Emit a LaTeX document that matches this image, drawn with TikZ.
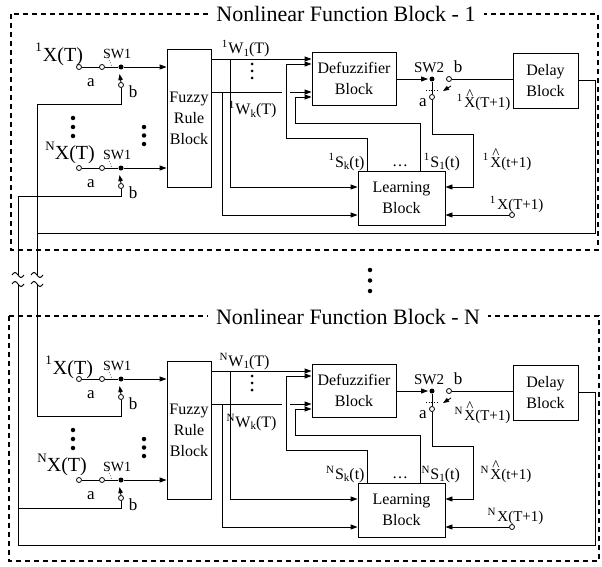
\documentclass[tikz,border=0pt]{standalone}
\usepackage{fontspec}
\setmainfont{Liberation Serif}
\usetikzlibrary{arrows.meta}
\newcommand\myfs[1]{\fontsize{#1}{#1}\selectfont}
\newcommand\spr[1]{\raisebox{6pt}{\myfs{11}#1}}
\newcommand\sbs[1]{\raisebox{-2.5pt}{\myfs{11}#1}}
\newcommand\hX{\makebox[0pt][l]{\hspace{1.9pt}\raisebox{9pt}{\textasciicircum}}X}
\tikzset{
  blk/.style={draw, inner sep=0pt, align=center, font=\fontsize{16}{21}\selectfont},
  term/.style={circle, draw, fill=white, inner sep=0pt, minimum size=5pt, line width=0.8pt},
  dotc/.style={circle, fill, inner sep=0pt, minimum size=5pt},
  bigdot/.style={circle, fill, inner sep=0pt, minimum size=4.5pt},
  smdot/.style={circle, fill, inner sep=0pt, minimum size=3pt},
  arr/.style={-{Triangle[length=7pt,width=5pt]}},
  sarr/.style={-{Triangle[length=6pt,width=4.5pt]}},
  lab/.style={inner sep=0pt},
  frame/.style={dash pattern=on 5pt off 4pt, line width=1.3pt},
}
\newcommand\nfblock[6]{%
\begin{scope}[yshift=#1]
  % blocks
  \node[blk, minimum width=44, minimum height=138] (fz#2) at (189,118) {Fuzzy\\Rule\\Block};
  \node[blk, minimum width=84, minimum height=53] (df#2) at (354,78.5) {Defuzzifier\\Block};
  \node[blk, minimum width=65, minimum height=55] (dl#2) at (545.5,80.5) {Delay\\Block};
  \node[blk, minimum width=87, minimum height=54] (ln#2) at (401.5,198) {Learning\\Block};
  % switch SW1 (first input)
  \node[term] (in1#2) at (79,67) {};
  \node[term] (ca1#2) at (102,67) {};
  \node[dotc] (co1#2) at (121,67) {};
  \node[term] (cb1#2) at (121,85) {};
  \coordinate (bl1#2) at (37,104);
  \draw (in1#2) -- (ca1#2);
  \draw (ca1#2) -- (co1#2);
  \draw[dotted, line width=0.7pt] (107,55) -- (112,67);
  \draw[sarr] (cb1#2.north) -- ++(-1.5,-8);
  \draw (cb1#2) |- (bl1#2);
  \draw[arr] (co1#2) -- (co1#2 -| fz#2.west);
  % switch SW1 (N-th input)
  \node[term] (inN#2) at (79,168) {};
  \node[term] (caN#2) at (102,168) {};
  \node[dotc] (coN#2) at (121,168) {};
  \node[term] (cbN#2) at (121,186) {};
  \coordinate (blN#2) at (18,196);
  \draw (inN#2) -- (caN#2);
  \draw (caN#2) -- (coN#2);
  \draw[dotted, line width=0.7pt] (107,156) -- (112,168);
  \draw[sarr] (cbN#2.north) -- ++(-1.5,-8);
  \draw (cbN#2) |- (blN#2);
  \draw[arr] (coN#2) -- (coN#2 -| fz#2.west);
  % input labels
  \node[lab, anchor=base west, font=\myfs{20}] (lx1#2) at (#5,62) {\raisebox{10pt}{\myfs{13}1}\hspace{1pt}X(T)};
  \node[lab, anchor=base west, font=\myfs{20}] (lxN#2) at (#6,159) {\raisebox{9pt}{\myfs{13}N}X(T)};
  \node[lab, font=\myfs{14}] (sw1a#2) at (117,54) {SW1};
  \node[lab, font=\myfs{14}] (sw1b#2) at (117,155) {SW1};
  \node[lab, font=\myfs{17}] (la1#2) at (91,83) {a};
  \node[lab, font=\myfs{17}] (lb1#2) at (133,92) {b};
  \node[lab, font=\myfs{17}] (laN#2) at (91,184) {a};
  \node[lab, font=\myfs{17}] (lbN#2) at (133,193) {b};
  % vertical ellipses
  \node[bigdot] (da1#2) at (73,118) {};
  \node[bigdot] (da2#2) at (73,127) {};
  \node[bigdot] (da3#2) at (73,136) {};
  \node[bigdot] (db1#2) at (144,127) {};
  \node[bigdot] (db2#2) at (144,135.5) {};
  \node[bigdot] (db3#2) at (144,144) {};
  \node[smdot] (dc1#2) at (252,64) {};
  \node[smdot] (dc2#2) at (252,71) {};
  \node[smdot] (dc3#2) at (252,78) {};
  % fuzzy outputs
  \draw[arr] (fz#2.east |- 0,59) -- (df#2.west |- 0,59);
  \draw[arr] (230,59) |- (ln#2.west |- 0,187);
  \draw (fz#2.east |- 0,92) -- (282,92);
  \draw[arr] (290,92) -- (df#2.west |- 0,92);
  \draw[arr] (222,92) |- (ln#2.west |- 0,215);
  % learning feedback to defuzzifier
  \draw[arr] (367,0 |- ln#2.north) |- (286,138) |- (df#2.west |- 0,64);
  \draw[arr] (420,0 |- ln#2.north) |- (295,123) |- (df#2.west |- 0,97);
  % SW2
  \node[dotc] (co2#2) at (432,79) {};
  \node[term] (cb2#2) at (449,79) {};
  \node[term] (ca2#2) at (432,97) {};
  \draw[arr, shorten >=1pt] (df#2.east |- co2#2) -- (co2#2);
  \draw (co2#2) -- (ca2#2);
  \draw (cb2#2) -- (cb2#2 -| dl#2.west);
  \draw[dotted, line width=0.7pt] (426,90) -- (438,90);
  \draw[sarr] (451,86) -- (443,91);
  \draw[arr] (ca2#2) |- (473,134) |- (ln#2.east |- 0,187);
  \node[term] (xt#2) at (512,215) {};
  \draw[arr] (xt#2) -- (ln#2.east |- xt#2);
  % delay feedback
  \coordinate (fb#2) at (#4,233);
  \draw (dl#2.east) -| (595,233) -- (fb#2);
  % labels
  \node[lab, font=\myfs{15}] (sw2l#2) at (429,68) {SW2};
  \node[lab, font=\myfs{17}] (lb2#2) at (458,67) {b};
  \node[lab, font=\myfs{17}] (la2#2) at (423,103) {a};
  \node[lab, anchor=base west, font=\myfs{16}] (w1l#2) at (228,54) {\llap{\spr{#3}\hspace{1pt}}W\sbs{1}(T)};
  \node[lab, anchor=base west, font=\myfs{16}] (wkl#2) at (235,115) {\llap{\spr{#3}\hspace{1pt}}W\sbs{k}(T)};
  \node[lab, anchor=base east, font=\myfs{16}] (skl#2) at (365,167) {\spr{#3}\hspace{1pt}S\sbs{k}(t)};
  \node[lab, anchor=base, font=\myfs{16}] (dtl#2) at (400,166) {\textellipsis};
  \node[lab, anchor=base west, font=\myfs{16}] (s1l#2) at (430,167) {\llap{\spr{#3}\hspace{1pt}}S\sbs{1}(t)};
  \node[lab, anchor=base west, font=\myfs{15}] (xh1l#2) at (464,108) {\llap{\spr{#3}\hspace{2pt}}\hX(T+1)};
  \node[lab, anchor=base west, font=\myfs{15}] (xh2l#2) at (490,167) {\llap{\spr{#3}\hspace{2pt}}\hX(t+1)};
  \node[lab, anchor=base west, font=\myfs{15}] (xtl#2) at (497,209) {\llap{\spr{#3}\hspace{2pt}}X(T+1)};
\end{scope}}
\begin{document}
\begin{tikzpicture}[x=1pt, y=-1pt, line width=0.9pt]
\useasboundingbox (0,0) rectangle (602,567);
% frames
\draw[frame] (11,14) rectangle (598,250);
\node[lab, fill=white, inner xsep=8pt, inner ysep=2pt, font=\myfs{22}] (title1) at (346,14) {Nonlinear Function Block - 1};
\draw[frame] (9,316) rectangle (599,561);
\node[lab, fill=white, inner xsep=8pt, inner ysep=2pt, font=\myfs{22}] (titleN) at (348,317) {Nonlinear Function Block - N};
% blocks
\nfblock{0pt}{a}{1}{37}{35}{45}
\nfblock{-312pt}{b}{N}{18}{45}{37}
% cross-block wires
\coordinate (tA1) at (37,275);
\coordinate (tA2) at (37,284);
\coordinate (tB1) at (18,275);
\coordinate (tB2) at (18,284);
\draw (bl1a) -- (tA1);
\draw (tA2) -- (bl1b);
\draw (blNa) -- (tB1);
\draw (tB2) -- (fbb);
\draw (31,275) sin (34,272.5) cos (37,275) sin (40,277.5) cos (43,275);
\draw (31,284) sin (34,281.5) cos (37,284) sin (40,286.5) cos (43,284);
\draw (12,275) sin (15,272.5) cos (18,275) sin (21,277.5) cos (24,275);
\draw (12,284) sin (15,281.5) cos (18,284) sin (21,286.5) cos (24,284);
% middle ellipsis
\node[bigdot] (m1) at (370,270) {};
\node[bigdot] (m2) at (370,280.5) {};
\node[bigdot] (m3) at (370,291) {};
\end{tikzpicture}
\end{document}
